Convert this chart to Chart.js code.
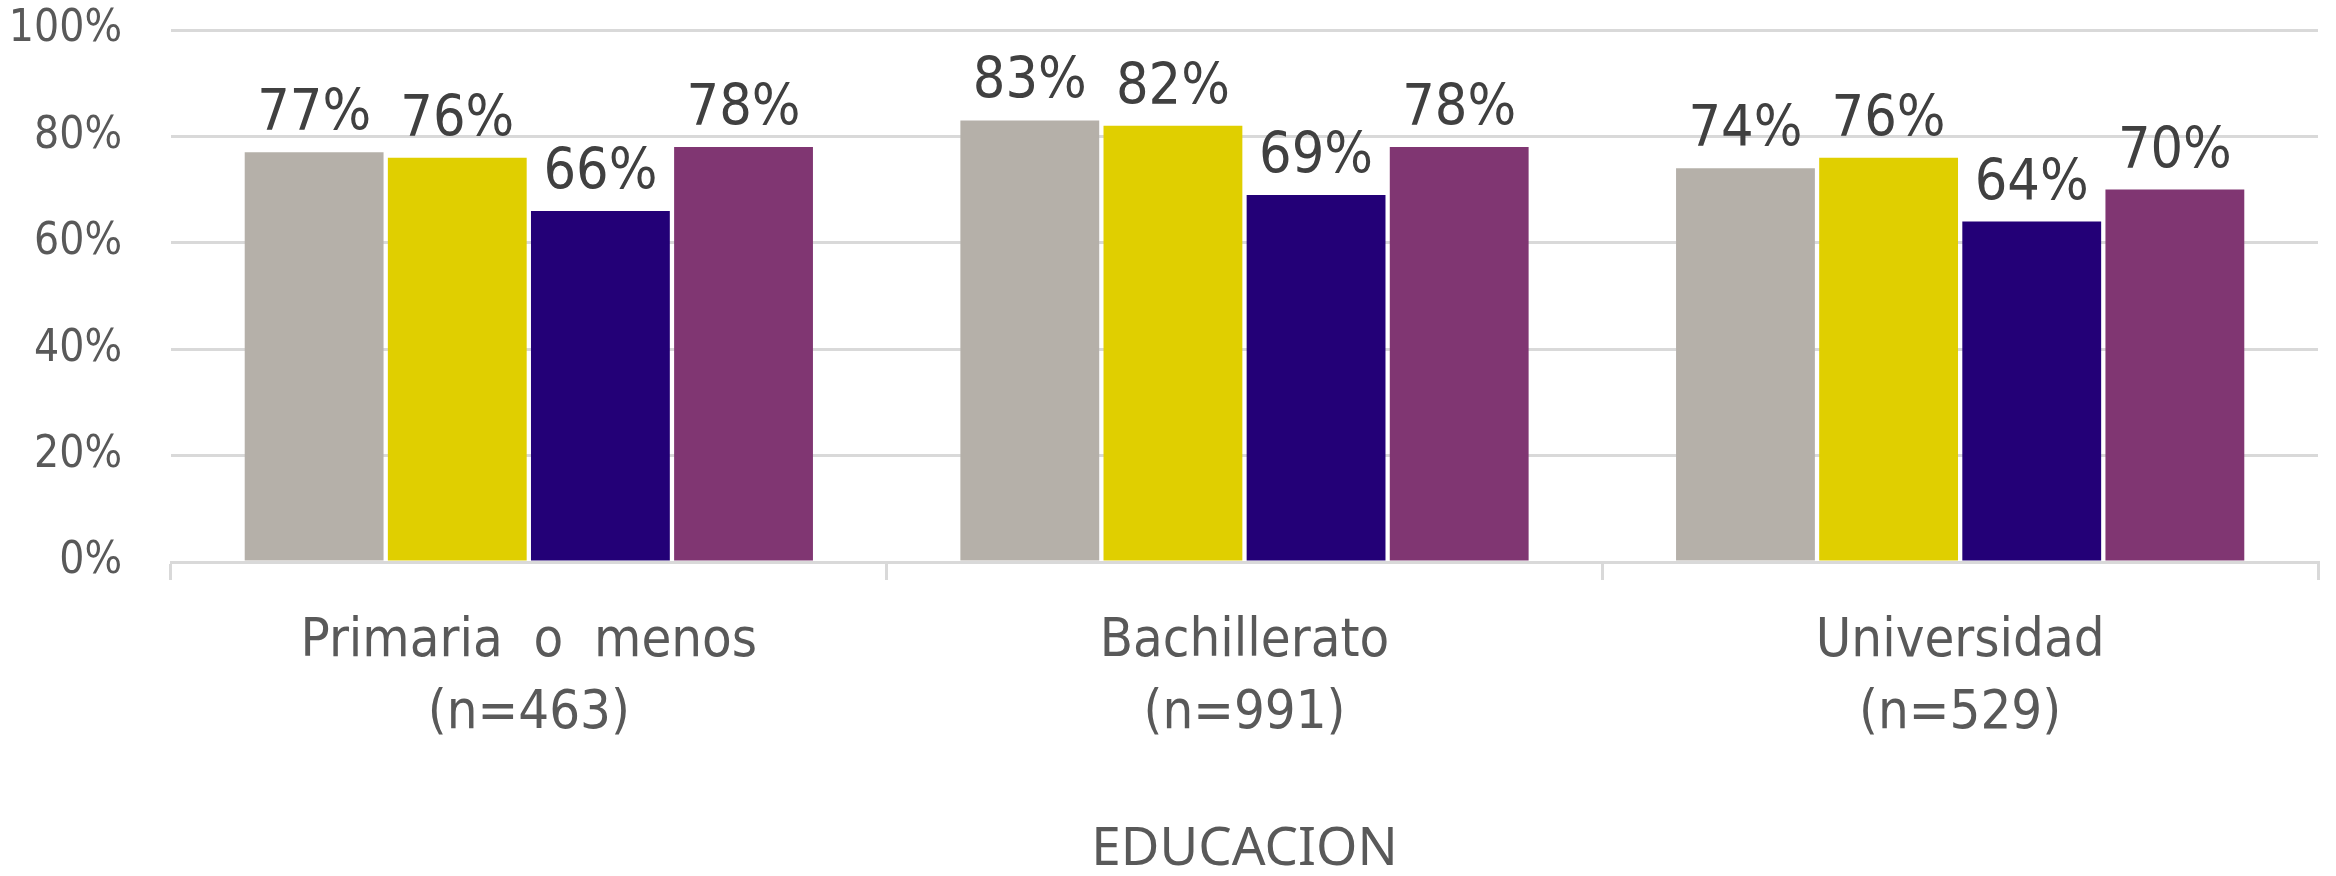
<!DOCTYPE html>
<html>
<head>
<meta charset="utf-8">
<script src="https://cdn.jsdelivr.net/npm/chart.js@4"></script>
<style>
  html, body { margin: 0; padding: 0; background: #fff; }
</style>
</head>
<body>
<canvas id="myChart" width="2336" height="876"></canvas>
<script>
'use strict';
// data
const categories = [['Primaria  o  menos', '(n=463)'], ['Bachillerato', '(n=991)'], ['Universidad', '(n=529)']];
const seriesNames = ['Serie 1', 'Serie 2', 'Serie 3', 'Serie 4'];
const serie1 = [77, 83, 74];
const serie2 = [76, 82, 76];
const serie3 = [66, 69, 64];
const serie4 = [78, 78, 70];
const seriesColors = ['#b5b0a9', '#e0cf00', '#230077', '#803672'];
const yTicks = [0, 20, 40, 60, 80, 100];
const axisTitle = 'EDUCACION';

const narrow = "'Liberation Sans Narrow', 'DejaVu Sans Condensed', sans-serif";

// value labels above each bar
const barLabels = {
	id: 'barLabels',
	afterDatasetsDraw(chart) {
		const ctx = chart.ctx;
		ctx.save();
		ctx.font = '57px ' + narrow;
		ctx.fillStyle = '#404040';
		ctx.textAlign = 'center';
		ctx.textBaseline = 'alphabetic';
		chart.data.datasets.forEach((ds, i) => {
			chart.getDatasetMeta(i).data.forEach((bar, j) => {
				ctx.fillText(ds.data[j] + '%', bar.x, bar.y - 22);
			});
		});
		ctx.restore();
	},
};

const allSeries = [serie1, serie2, serie3, serie4];
const ctx = document.getElementById('myChart');

const chart = new Chart(ctx, {
	type: 'bar',
	data: {
		labels: categories,
		datasets: allSeries.map((values, i) => ({
			label: seriesNames[i],
			data: values,
			backgroundColor: seriesColors[i],
			borderWidth: 0,
			categoryPercentage: 0.8,
			barPercentage: 0.97,
		})),
	},
	options: {
		responsive: false,
		animation: false,
		layout: { padding: { top: 30, right: 18, left: 0, bottom: 0 } },
		plugins: {
			legend: { display: false },
			tooltip: { enabled: false },
		},
		scales: {
			x: {
				afterFit: (scale) => { scale.height = 314; },
				grid: {
					offset: true,
					drawOnChartArea: false,
					tickLength: 18,
					color: '#d9d9d9',
					lineWidth: 3,
				},
				border: { color: '#d9d9d9', width: 3 },
				ticks: {
					color: '#595959',
					font: { family: narrow, size: 54, lineHeight: 1.33 },
					padding: 26,
					maxRotation: 0,
					autoSkip: false,
				},
				title: {
					display: true,
					text: axisTitle,
					color: '#595959',
					font: { family: "'Noto Sans', sans-serif", size: 53, lineHeight: 1 },
					padding: { top: 0, bottom: 0 },
				},
			},
			y: {
				min: yTicks[0],
				max: yTicks[yTicks.length - 1],
				afterFit: (scale) => { scale.width = 171; },
				afterBuildTicks: (scale) => { scale.ticks = yTicks.map((v) => ({ value: v })); },
				grid: {
					color: '#d9d9d9',
					lineWidth: 3,
					drawTicks: true,
					tickLength: 49,
					tickColor: 'rgba(0,0,0,0)',
				},
				border: { display: false },
				ticks: {
					color: '#595959',
					font: { family: narrow, size: 44 },
					padding: 0,
					callback: (v) => v + '%',
				},
			},
		},
	},
	plugins: [barLabels],
});
</script>
</body>
</html>
